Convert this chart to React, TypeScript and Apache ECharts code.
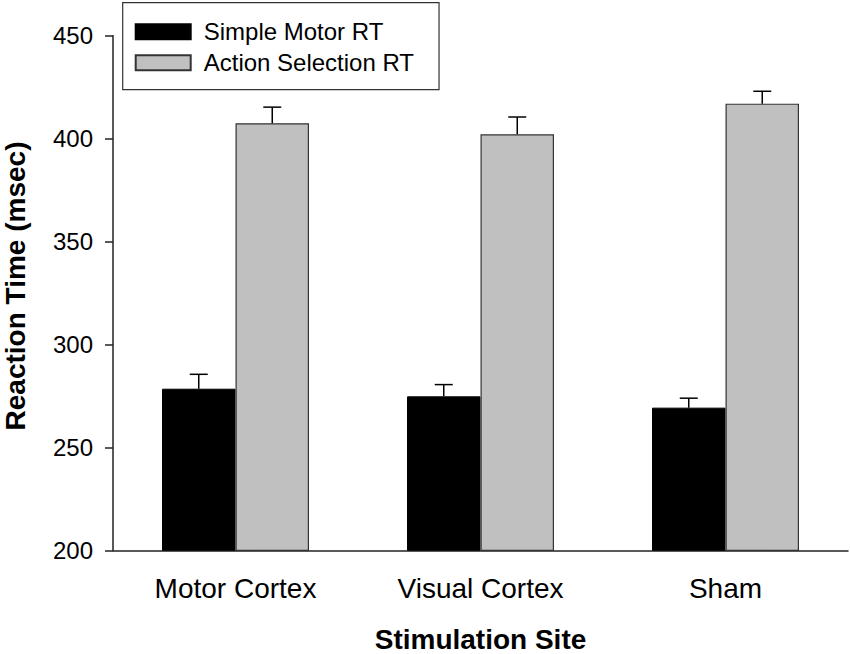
import React, { useEffect, useRef } from "react";
import * as echarts from "echarts";

const categories = ["Motor Cortex", "Visual Cortex", "Sham"];
const seriesNames = ["Simple Motor RT", "Action Selection RT"];
const simpleMeans = [278.5, 274.8, 269.3];
const simpleErrs = [7, 5.7, 4.6];
const actionMeans = [407.5, 402.1, 417];
const actionErrs = [7.8, 8.4, 6];
const yTicks = { min: 200, max: 450, interval: 50 };

const FONT = "'Liberation Sans', Arial, Helvetica, sans-serif";

function errorSeries(means: number[], errs: number[], side: number) {
  return {
    type: "custom",
    silent: true,
    z: 5,
    data: means.map((m, i) => [i, m, errs[i]]),
    renderItem: (params: any, api: any) => {
      const idx = api.value(0);
      const mean = api.value(1);
      const err = api.value(2);
      const band = api.size([1, 0])[0];
      const barW = (band * 0.6) / 2;
      const base = api.coord([idx, mean]);
      const top = api.coord([idx, mean + err]);
      const x = base[0] + side * barW / 2;
      const cap = 9;
      return {
        type: "group",
        children: [
          {
            type: "line",
            shape: { x1: x, y1: base[1], x2: x, y2: top[1] },
            style: { stroke: "#000", lineWidth: 1.5 },
          },
          {
            type: "line",
            shape: { x1: x - cap, y1: top[1], x2: x + cap, y2: top[1] },
            style: { stroke: "#000", lineWidth: 1.5 },
          },
        ],
      };
    },
  };
}

export default function App() {
  const ref = useRef<HTMLDivElement>(null);
  useEffect(() => {
    if (!ref.current) return;
    const chart = echarts.init(ref.current, undefined, { renderer: "svg" });
    chart.setOption({
      animation: false,
      backgroundColor: "#fff",
      textStyle: { fontFamily: FONT, color: "#000" },
      grid: {
        left: 113,
        right: 2,
        top: 35.7,
        bottom: 103.7,
        containLabel: false,
        outerBoundsMode: "none",
      },
      legend: {
        data: seriesNames,
        orient: "vertical",
        left: 122.7,
        top: 2.7,
        icon: "rect",
        itemWidth: 55,
        itemHeight: 15,
        itemGap: 7,
        padding: [17, 25, 15, 12],
        borderColor: "#333",
        borderWidth: 1.2,
        textStyle: { fontSize: 24, color: "#000", fontFamily: FONT, padding: [0, 0, 0, 8] },
      },
      xAxis: {
        type: "category",
        data: categories,
        boundaryGap: true,
        name: "Stimulation Site",
        nameLocation: "middle",
        nameGap: 76,
        nameTextStyle: {
          fontSize: 28,
          lineHeight: 26,
          fontWeight: "bold",
          color: "#000",
          fontFamily: FONT,
        },
        axisLine: { lineStyle: { color: "#222", width: 1.5 } },
        axisTick: { alignWithLabel: true, length: 4, lineStyle: { color: "#222", width: 1.5 } },
        axisLabel: { fontSize: 28, color: "#000", margin: 24, fontFamily: FONT },
        splitLine: { show: false },
      },
      yAxis: {
        type: "value",
        min: yTicks.min,
        max: yTicks.max,
        interval: yTicks.interval,
        name: "Reaction Time (msec)",
        nameLocation: "middle",
        nameGap: 84,
        nameRotate: 90,
        nameTextStyle: {
          fontSize: 28,
          fontWeight: "bold",
          color: "#000",
          fontFamily: FONT,
          padding: [0, 0, 0, 14],
        },
        axisLine: { show: true, lineStyle: { color: "#222", width: 1.5 } },
        axisTick: { show: true, length: 8, lineStyle: { color: "#222", width: 1.5 } },
        axisLabel: { fontSize: 24, color: "#000", margin: 20, fontFamily: FONT },
        splitLine: { show: false },
      },
      series: [
        {
          name: seriesNames[0],
          type: "bar",
          data: simpleMeans,
          barGap: "0%",
          barCategoryGap: "40%",
          itemStyle: { color: "#000", borderColor: "#000", borderWidth: 1 },
        },
        {
          name: seriesNames[1],
          type: "bar",
          data: actionMeans,
          barGap: "0%",
          barCategoryGap: "40%",
          itemStyle: { color: "#c0c0c0", borderColor: "#333", borderWidth: 1.2 },
        },
        errorSeries(simpleMeans, simpleErrs, -1),
        errorSeries(actionMeans, actionErrs, 1),
      ],
    });
    return () => chart.dispose();
  }, []);
  return (
    <div
      ref={ref}
      style={{ position: "fixed", left: 0, top: 0, width: 850, height: 654 }}
    />
  );
}
